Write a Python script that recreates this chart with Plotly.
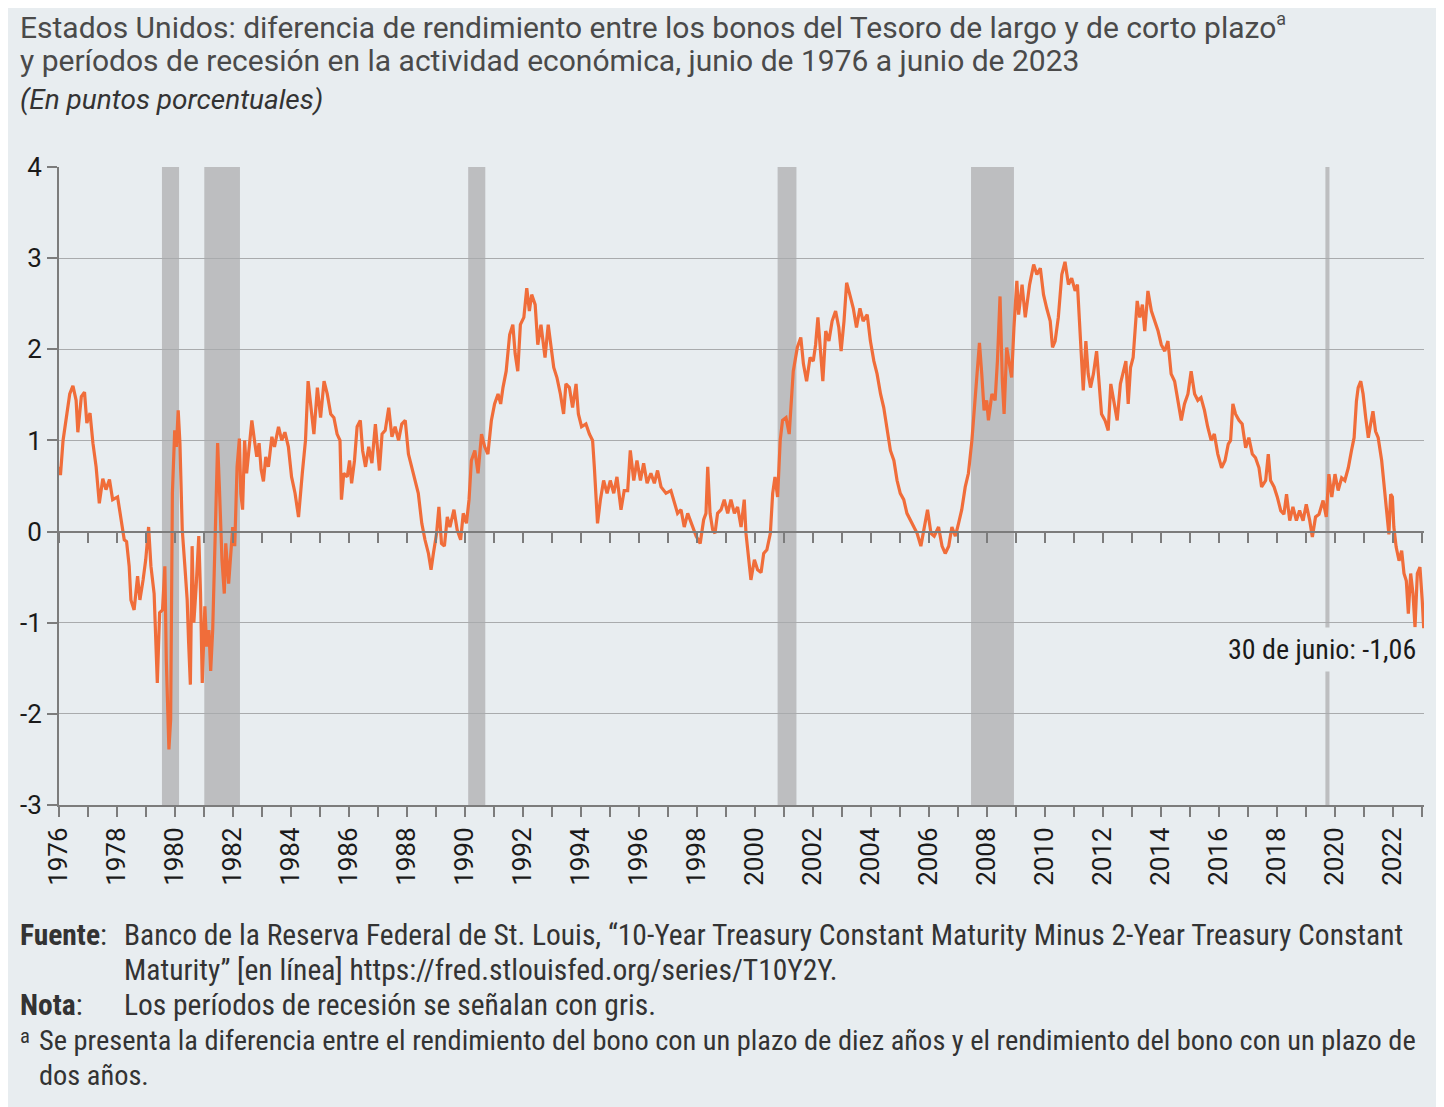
import plotly.graph_objects as go

# ---------------- data ----------------
years = [
    1976.00, 1976.05, 1976.14, 1976.25, 1976.37, 1976.48, 1976.59, 1976.65, 1976.77, 1976.88, 1976.96,
    1977.07, 1977.17, 1977.28, 1977.39, 1977.51, 1977.62, 1977.74, 1977.85,
    1978.02, 1978.14, 1978.25, 1978.33, 1978.42, 1978.48, 1978.59, 1978.71, 1978.79, 1978.90, 1978.99,
    1979.09, 1979.17, 1979.28, 1979.39, 1979.47, 1979.57, 1979.65, 1979.70, 1979.79, 1979.85, 1979.91, 1979.99,
    1980.05, 1980.11, 1980.17, 1980.25, 1980.34, 1980.42, 1980.47, 1980.53, 1980.59, 1980.65, 1980.73, 1980.82, 1980.88, 1980.94,
    1981.03, 1981.09, 1981.17, 1981.23, 1981.30, 1981.36, 1981.41, 1981.47, 1981.53, 1981.62, 1981.70, 1981.75, 1981.85, 1981.93, 1981.99,
    1982.06, 1982.14, 1982.22, 1982.27, 1982.33, 1982.40, 1982.47, 1982.56, 1982.65, 1982.74, 1982.82, 1982.90, 1982.97,
    1983.05, 1983.13, 1983.22, 1983.34, 1983.43, 1983.57, 1983.68, 1983.79, 1983.91,
    1984.02, 1984.14, 1984.26, 1984.39, 1984.50, 1984.59, 1984.68, 1984.79, 1984.91,
    1985.02, 1985.14, 1985.25, 1985.37, 1985.48, 1985.59, 1985.69, 1985.74, 1985.82, 1985.94,
    1986.02, 1986.09, 1986.19, 1986.28, 1986.39, 1986.47, 1986.57, 1986.68, 1986.79, 1986.91,
    1987.05, 1987.14, 1987.25, 1987.37, 1987.48, 1987.59, 1987.71, 1987.82, 1987.94,
    1988.05, 1988.17, 1988.30, 1988.39, 1988.51, 1988.62, 1988.74, 1988.83, 1988.91,
    1989.02, 1989.10, 1989.19, 1989.29, 1989.39, 1989.48, 1989.62, 1989.73, 1989.85, 1989.94,
    1990.05, 1990.14, 1990.22, 1990.34, 1990.45, 1990.57, 1990.68, 1990.79, 1990.91,
    1991.02, 1991.14, 1991.23, 1991.31, 1991.42, 1991.54, 1991.65, 1991.73, 1991.82, 1991.91,
    1992.03, 1992.13, 1992.22, 1992.30, 1992.42, 1992.51, 1992.62, 1992.76, 1992.87, 1992.97,
    1993.06, 1993.17, 1993.29, 1993.40, 1993.48, 1993.60, 1993.71, 1993.83, 1993.91,
    1994.02, 1994.17, 1994.29, 1994.40, 1994.46, 1994.52, 1994.57, 1994.67, 1994.78, 1994.90,
    1995.01, 1995.13, 1995.24, 1995.38, 1995.49, 1995.61, 1995.70, 1995.82, 1995.93,
    1996.05, 1996.16, 1996.28, 1996.41, 1996.53, 1996.64, 1996.76, 1996.93,
    1997.10, 1997.22, 1997.33, 1997.45, 1997.56, 1997.68, 1997.85, 1997.97,
    1998.11, 1998.23, 1998.31, 1998.37, 1998.45, 1998.54, 1998.62, 1998.71, 1998.83, 1998.94,
    1999.06, 1999.17, 1999.29, 1999.40, 1999.52, 1999.63, 1999.69, 1999.77, 1999.86, 1999.98,
    2000.09, 2000.21, 2000.30, 2000.41, 2000.53, 2000.61, 2000.69, 2000.78, 2000.87, 2000.95,
    2001.07, 2001.18, 2001.32, 2001.46, 2001.58, 2001.67, 2001.78, 2001.90,
    2002.01, 2002.09, 2002.17, 2002.26, 2002.34, 2002.44, 2002.55, 2002.66, 2002.78, 2002.89, 2002.97,
    2003.07, 2003.16, 2003.27, 2003.39, 2003.50, 2003.62, 2003.73, 2003.87, 2003.98,
    2004.10, 2004.21, 2004.33, 2004.44, 2004.56, 2004.67, 2004.79, 2004.90,
    2005.01, 2005.13, 2005.24, 2005.36, 2005.47, 2005.59, 2005.72, 2005.84, 2005.95,
    2006.07, 2006.18, 2006.33, 2006.45, 2006.56, 2006.68, 2006.79, 2006.91,
    2007.02, 2007.13, 2007.25, 2007.36, 2007.48, 2007.56, 2007.65, 2007.74, 2007.82, 2007.90, 2007.99,
    2008.05, 2008.17, 2008.28, 2008.36, 2008.45, 2008.53, 2008.59, 2008.68, 2008.77, 2008.85, 2008.93,
    2009.03, 2009.09, 2009.21, 2009.32, 2009.47, 2009.61, 2009.72, 2009.84, 2009.95,
    2010.06, 2010.18, 2010.26, 2010.35, 2010.46, 2010.58, 2010.69, 2010.81, 2010.92,
    2011.04, 2011.12, 2011.19, 2011.27, 2011.32, 2011.41, 2011.49, 2011.57, 2011.67, 2011.78, 2011.87, 2011.95,
    2012.07, 2012.18, 2012.27, 2012.38, 2012.49, 2012.60, 2012.70, 2012.79, 2012.87, 2012.95,
    2013.04, 2013.10, 2013.18, 2013.27, 2013.36, 2013.44, 2013.55, 2013.67, 2013.78, 2013.90,
    2014.01, 2014.13, 2014.24, 2014.35, 2014.47, 2014.58, 2014.70, 2014.81, 2014.93,
    2015.04, 2015.16, 2015.27, 2015.38, 2015.50, 2015.61, 2015.73, 2015.84, 2015.96,
    2016.09, 2016.21, 2016.32, 2016.40, 2016.48, 2016.57, 2016.69, 2016.80, 2016.92,
    2017.03, 2017.15, 2017.26, 2017.38, 2017.47, 2017.61, 2017.70, 2017.78, 2017.90,
    2018.01, 2018.13, 2018.24, 2018.33, 2018.44, 2018.55, 2018.67, 2018.78, 2018.90,
    2019.01, 2019.13, 2019.22, 2019.33, 2019.45, 2019.59, 2019.70, 2019.79, 2019.89,
    2020.00, 2020.11, 2020.23, 2020.34, 2020.46, 2020.57, 2020.66, 2020.74, 2020.80, 2020.89, 2020.97,
    2021.06, 2021.15, 2021.23, 2021.31, 2021.40, 2021.49, 2021.61, 2021.69, 2021.77, 2021.86, 2021.92, 2021.98,
    2022.03, 2022.11, 2022.21, 2022.30, 2022.38, 2022.46, 2022.53, 2022.61, 2022.69, 2022.76, 2022.84, 2022.93,
    2023.01, 2023.06,
]

spread = [
    0.71, 0.62, 1.00, 1.22, 1.51, 1.60, 1.44, 1.09, 1.48, 1.53, 1.19,
    1.30, 0.97, 0.71, 0.31, 0.58, 0.46, 0.57, 0.35,
    0.38, 0.13, -0.09, -0.11, -0.38, -0.75, -0.86, -0.49, -0.75, -0.53, -0.31,
    0.05, -0.38, -0.68, -1.66, -0.89, -0.86, -0.38, -1.41, -2.39, -2.06, 0.42, 1.11,
    0.93, 1.33, 0.97, 0.02, -0.38, -0.75, -1.22, -1.68, -0.16, -1.00, -0.60, -0.05, -0.68, -1.66,
    -0.82, -1.26, -1.08, -1.53, -1.08, -0.31, 0.42, 0.97, 0.49, -0.31, -0.68, -0.13, -0.57, -0.27, 0.05,
    -0.16, 0.71, 1.02, 0.42, 0.24, 1.00, 0.64, 0.93, 1.22, 1.00, 0.82, 0.97, 0.68,
    0.55, 0.82, 0.71, 1.04, 0.93, 1.15, 1.00, 1.09, 0.93,
    0.60, 0.42, 0.16, 0.64, 1.00, 1.65, 1.40, 1.07, 1.58,
    1.25, 1.65, 1.51, 1.29, 1.25, 1.07, 1.00, 0.35, 0.64, 0.60,
    0.78, 0.53, 0.78, 1.15, 1.22, 0.89, 0.71, 0.93, 0.75, 1.18,
    0.67, 1.07, 1.11, 1.36, 1.04, 1.15, 1.00, 1.18, 1.22,
    0.85, 0.71, 0.53, 0.42, 0.09, -0.09, -0.24, -0.42, -0.24,
    -0.02, 0.27, -0.13, -0.16, 0.16, 0.05, 0.24, 0.02, -0.09, 0.20,
    0.09, 0.35, 0.78, 0.89, 0.64, 1.07, 0.93, 0.85, 1.22,
    1.40, 1.51, 1.40, 1.58, 1.76, 2.16, 2.27, 1.95, 1.76, 2.27,
    2.35, 2.67, 2.42, 2.60, 2.49, 2.05, 2.27, 1.91, 2.27, 2.02,
    1.80, 1.69, 1.51, 1.29, 1.62, 1.58, 1.36, 1.62, 1.29,
    1.15, 1.18, 1.07, 1.00, 0.71, 0.31, 0.09, 0.35, 0.56, 0.42,
    0.56, 0.42, 0.60, 0.24, 0.45, 0.45, 0.89, 0.56, 0.78,
    0.56, 0.75, 0.53, 0.64, 0.53, 0.67, 0.49, 0.42,
    0.45, 0.31, 0.20, 0.24, 0.05, 0.20, 0.05, -0.05,
    -0.13, 0.13, 0.20, 0.71, 0.20, 0.02, -0.02, 0.20, 0.24, 0.35,
    0.20, 0.35, 0.20, 0.27, 0.05, 0.35, -0.02, -0.24, -0.53, -0.31,
    -0.42, -0.45, -0.24, -0.20, -0.02, 0.42, 0.60, 0.38, 1.00, 1.22,
    1.25, 1.07, 1.76, 2.02, 2.13, 1.84, 1.65, 1.91,
    1.87, 2.05, 2.35, 1.98, 1.65, 2.20, 2.09, 2.31, 2.42, 2.24, 1.98,
    2.31, 2.73, 2.60, 2.45, 2.24, 2.45, 2.31, 2.38, 2.09,
    1.87, 1.73, 1.51, 1.36, 1.11, 0.89, 0.78, 0.56,
    0.42, 0.35, 0.20, 0.13, 0.05, -0.02, -0.16, 0.05, 0.24,
    -0.02, -0.05, 0.05, -0.16, -0.24, -0.16, 0.05, -0.05,
    0.09, 0.24, 0.49, 0.64, 1.00, 1.36, 1.76, 2.07, 1.73, 1.33, 1.44,
    1.22, 1.51, 1.44, 1.87, 2.58, 1.65, 1.29, 2.02, 1.87, 1.69, 2.24,
    2.75, 2.38, 2.71, 2.35, 2.71, 2.93, 2.82, 2.89, 2.60,
    2.45, 2.31, 2.02, 2.09, 2.35, 2.82, 2.96, 2.71, 2.78,
    2.64, 2.71, 2.24, 1.80, 1.55, 2.09, 1.73, 1.58, 1.73, 1.98, 1.55, 1.29,
    1.22, 1.11, 1.62, 1.44, 1.22, 1.62, 1.76, 1.87, 1.40, 1.80,
    1.91, 2.24, 2.53, 2.35, 2.49, 2.20, 2.64, 2.42, 2.31, 2.20,
    2.05, 1.98, 2.09, 1.73, 1.65, 1.44, 1.22, 1.40, 1.51,
    1.76, 1.51, 1.44, 1.47, 1.33, 1.15, 1.00, 1.07, 0.85,
    0.70, 0.78, 0.96, 1.00, 1.40, 1.29, 1.22, 1.18, 0.92,
    1.03, 0.85, 0.81, 0.70, 0.49, 0.56, 0.85, 0.56, 0.49,
    0.38, 0.23, 0.19, 0.41, 0.12, 0.27, 0.12, 0.23, 0.12,
    0.30, 0.12, -0.06, 0.16, 0.19, 0.34, 0.16, 0.63, 0.38,
    0.63, 0.45, 0.59, 0.56, 0.70, 0.89, 1.03, 1.43, 1.58, 1.65, 1.51,
    1.25, 1.03, 1.18, 1.32, 1.10, 1.03, 0.78, 0.49, 0.30, -0.03, 0.41, 0.38,
    0.05, -0.17, -0.32, -0.21, -0.46, -0.54, -0.90, -0.46, -0.68, -1.05, -0.46, -0.39,
    -0.76, -1.06,
]

# recession periods (as drawn, in axis-year units)
rec_start = [1979.55, 1981.01, 1990.11, 2000.78, 2007.45, 2019.67]
rec_end = [1980.14, 1982.24, 1990.70, 2001.43, 2008.93, 2019.81]

label_years = list(range(1976, 2024, 2))
all_years = list(range(1976, 2024))
y_ticks = [-3, -2, -1, 0, 1, 2, 3, 4]
y_text = ["-3", "-2", "-1", "0", "1", "2", "3", "4"]

last_label = "30 de junio: -1,06"

# ---------------- styling ----------------
BG = "#e8edf0"
ORANGE = "#f06d3a"
BAND = "#bdbec0"
AXIS = "#7c7c7c"
GRID = "#a9abad"
TXT = "#1a1a1a"
COND = "Liberation Sans Narrow, Roboto Condensed, DejaVu Sans Condensed, Roboto, sans-serif"
SANS = "Roboto, Noto Sans, sans-serif"

fig = go.Figure()

fig.add_trace(go.Scatter(
    x=years, y=spread, mode="lines",
    line=dict(color=ORANGE, width=3.2),
    showlegend=False, hoverinfo="x+y",
))
# helper trace so the zero-level axis (x2) is drawn
fig.add_trace(go.Scatter(
    x=[years[0]], y=[spread[0]], xaxis="x2", mode="markers",
    marker=dict(opacity=0), showlegend=False, hoverinfo="skip",
))

for s, e in zip(rec_start, rec_end):
    fig.add_shape(type="rect", xref="x", yref="paper", x0=s, x1=e, y0=0, y1=1,
                  fillcolor=BAND, line=dict(width=0), layer="below")

# page body has an 8px margin: the figure is laid out so the plot lands where the reference's does
XR = [1976, 2023.07]
fig.update_layout(
    width=1444, height=1107,
    paper_bgcolor=BG, plot_bgcolor=BG,
    margin=dict(l=47, r=28, t=159, b=310),
    xaxis=dict(
        range=XR, tickmode="array", tickvals=label_years,
        tickangle=-90, ticks="outside", ticklen=10, tickwidth=2, tickcolor=AXIS,
        minor=dict(tickmode="array", tickvals=all_years, ticks="outside", ticklen=10,
                   tickwidth=2, tickcolor=AXIS, showgrid=False),
        showline=True, linecolor=AXIS, linewidth=2, showgrid=False, zeroline=False,
        tickfont=dict(family=SANS, size=26, color=TXT),
    ),
    xaxis2=dict(
        range=XR, overlaying="x", anchor="free", position=3 / 7, side="bottom",
        tickmode="array", tickvals=all_years, showticklabels=False,
        ticks="outside", ticklen=10, tickwidth=2, tickcolor=AXIS,
        showline=True, linecolor=AXIS, linewidth=2, showgrid=False, zeroline=False,
    ),
    yaxis=dict(
        range=[-3, 4], tickmode="array", tickvals=y_ticks, ticktext=y_text,
        ticks="outside", ticklen=10, tickwidth=2, tickcolor=AXIS,
        showline=True, linecolor=AXIS, linewidth=2,
        showgrid=True, gridcolor=GRID, gridwidth=1, zeroline=False,
        tickfont=dict(family=SANS, size=26, color=TXT),
    ),
)

# end-of-series label
fig.add_annotation(x=2023.0, y=-1.29, xref="x", yref="y", xanchor="right", yanchor="middle",
                   text=last_label, showarrow=False, bgcolor=BG, borderpad=5,
                   font=dict(family=COND, size=28, color=TXT))

# ---------------- titles & notes (positions in plot-fraction units) ----------------
W, H = 1369.0, 638.0


def px(xp):
    return (xp - 55) / W


def py(yp):
    return (805 - yp) / H


def note(text, x, y, size=26, family=SANS, color="#4a4a4a", italic=False):
    fig.add_annotation(xref="paper", yref="paper", x=px(x), y=py(y), xanchor="left", yanchor="middle",
                       text=text, showarrow=False, align="left",
                       font=dict(family=family, size=size, color=color,
                                 style="italic" if italic else "normal"))


note("Estados Unidos: diferencia de rendimiento entre los bonos del Tesoro de largo y de corto plazo"
     "<sup><span style='font-size:18px'>a</span></sup>",
     14, 27, size=30)
note("y períodos de recesión en la actividad económica, junio de 1976 a junio de 2023", 14, 61, size=30)
note("(En puntos porcentuales)", 14, 99, size=28, italic=True, color="#333333")

FT = "#333333"
FS = 29.5
note("<b>Fuente</b>:", 14, 935, size=FS, family=COND, color=FT)
note("Banco de la Reserva Federal de St. Louis, “10-Year Treasury Constant Maturity Minus 2-Year Treasury Constant",
     118, 935, size=FS, family=COND, color=FT)
note("Maturity” [en línea] https://fred.stlouisfed.org/series/T10Y2Y.", 118, 970, size=FS, family=COND, color=FT)
note("<b>Nota</b>:", 14, 1005, size=FS, family=COND, color=FT)
note("Los períodos de recesión se señalan con gris.", 118, 1005, size=FS, family=COND, color=FT)
note("<sup>a</sup>", 14, 1036, size=FS, family=COND, color=FT)
note("Se presenta la diferencia entre el rendimiento del bono con un plazo de diez años y el rendimiento del bono con un plazo de",
     33, 1040, size=28.4, family=COND, color=FT)
note("dos años.", 33, 1075, size=28.4, family=COND, color=FT)

fig.write_html("out.html")
